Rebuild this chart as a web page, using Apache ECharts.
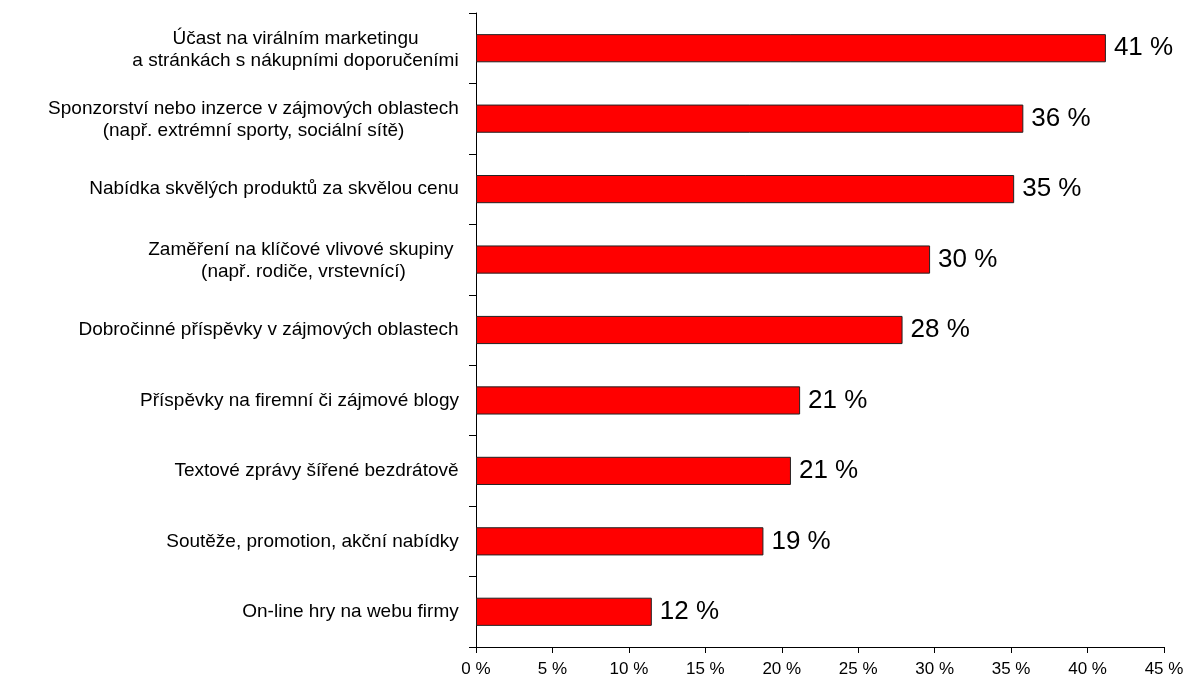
<!DOCTYPE html>
<html>
<head>
<meta charset="utf-8">
<script src="https://cdn.jsdelivr.net/npm/echarts@6/dist/echarts.min.js"></script>
<style>
  html, body { margin: 0; padding: 0; background: #fff; }
  #chart { width: 1189px; height: 682px; }
</style>
</head>
<body>
<div id="chart"></div>
<script>
// Category labels (each entry may span two lines)
const categories = [
  'Účast na virálním marketingu\na stránkách s nákupními doporučeními',
  'Sponzorství nebo inzerce v zájmových oblastech\n(např. extrémní sporty, sociální sítě)',
  'Nabídka skvělých produktů za skvělou cenu',
  'Zaměření na klíčové vlivové skupiny \n(např. rodiče, vrstevnící)',
  'Dobročinné příspěvky v zájmových oblastech',
  'Příspěvky na firemní či zájmové blogy',
  'Textové zprávy šířené bezdrátově',
  'Soutěže, promotion, akční nabídky',
  'On-line hry na webu firmy'
];

// Share of respondents, in percent
const values = [41.2, 35.8, 35.2, 29.7, 27.9, 21.2, 20.6, 18.8, 11.5];

// Value axis ticks
const axisMin = 0;
const axisMax = 45;
const axisStep = 5;

const FONT = '"Liberation Sans", Arial, sans-serif';
const LABEL_SIZE = 19;

// Measure each label line so multi-line labels can be centred within their own block
const ctx = document.createElement('canvas').getContext('2d');
ctx.font = LABEL_SIZE + 'px ' + FONT;
const rich = {};
categories.forEach(function (c, i) {
  const lines = c.split('\n');
  const w = Math.max.apply(null, lines.map(function (s) { return ctx.measureText(s).width; }));
  rich['c' + i] = {
    width: Math.ceil(w),
    align: 'center',
    fontSize: LABEL_SIZE,
    fontFamily: FONT,
    color: '#000',
    lineHeight: 22,
    padding: lines.length > 1 ? [3, 0, 0, 0] : 0
  };
});

const chart = echarts.init(document.getElementById('chart'), null, { renderer: 'canvas' });

chart.setOption({
  animation: false,
  backgroundColor: '#fff',
  grid: {
    left: 476,
    right: 25,
    top: 13,
    bottom: 35,
    containLabel: false,
    outerBoundsMode: 'none'
  },
  xAxis: {
    type: 'value',
    min: axisMin,
    max: axisMax,
    interval: axisStep,
    axisLine: { show: true, lineStyle: { color: '#000', width: 1 } },
    axisTick: { show: true, length: 6, lineStyle: { color: '#000' } },
    splitLine: { show: false },
    axisLabel: {
      formatter: '{value} %',
      fontFamily: FONT,
      fontSize: 17,
      color: '#000',
      margin: 14
    }
  },
  yAxis: {
    type: 'category',
    inverse: true,
    data: categories,
    axisLine: { show: true, lineStyle: { color: '#000', width: 1 } },
    axisTick: { show: true, length: 7, alignWithLabel: false, lineStyle: { color: '#000' } },
    axisLabel: {
      margin: 17,
      align: 'right',
      interval: 0,
      rich: rich,
      formatter: function (value, idx) {
        return value.split('\n').map(function (s) { return '{c' + idx + '|' + s + '}'; }).join('\n');
      }
    }
  },
  series: [{
    type: 'bar',
    data: values,
    barCategoryGap: '60%',
    itemStyle: {
      color: '#ff0000',
      borderColor: '#222',
      borderWidth: 1
    },
    label: {
      show: true,
      position: 'right',
      distance: 8,
      fontFamily: FONT,
      fontSize: 26,
      color: '#000',
      formatter: function (p) { return Math.round(p.value) + ' %'; }
    }
  }]
});
</script>
</body>
</html>
